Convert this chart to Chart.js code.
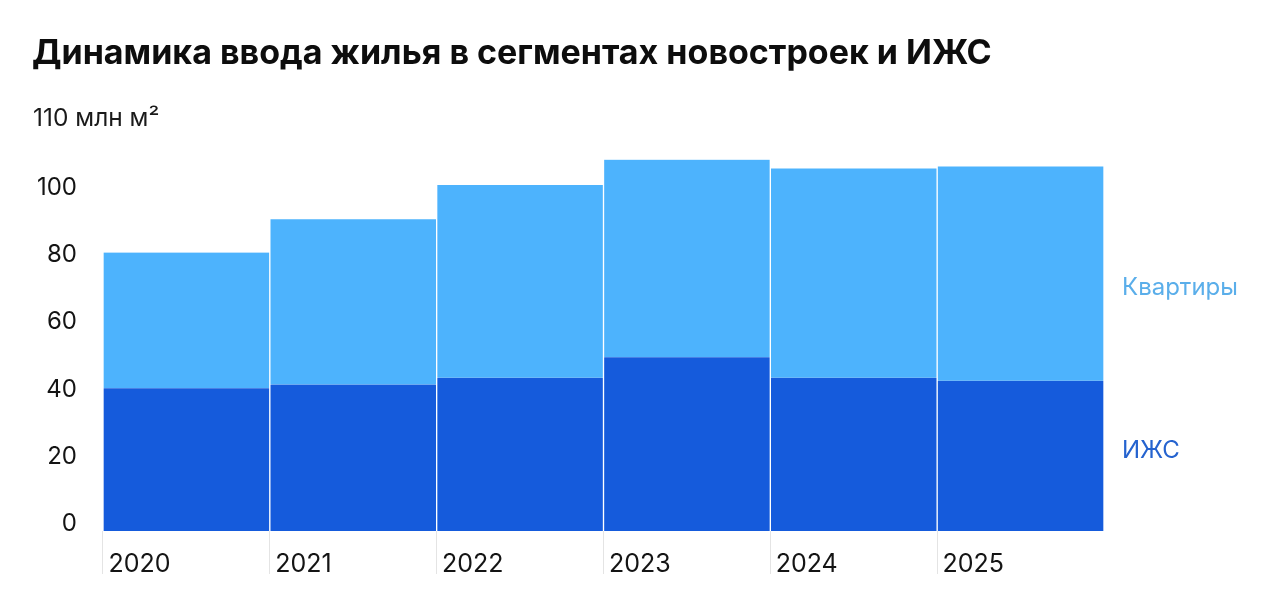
<!DOCTYPE html>
<html>
<head>
<meta charset="utf-8">
<script src="https://cdn.jsdelivr.net/npm/chart.js@4/dist/chart.umd.min.js"></script>
<style>
  html, body { margin: 0; padding: 0; background: #ffffff; }
  #wrap { width: 1280px; height: 611px; position: relative; }
</style>
</head>
<body>
<div id="wrap"><canvas id="c"></canvas></div>
<script>
const categories = ['2020', '2021', '2022', '2023', '2024', '2025'];
const izhsValues = [42.4, 43.5, 45.5, 51.6, 45.5, 44.6];
const flatsValues = [40.3, 49.1, 57.3, 58.7, 62.2, 63.7];
const yTickValues = [0, 20, 40, 60, 80, 100];
const titleText = 'Динамика ввода жилья в сегментах новостроек и ИЖС';
const unitText = '110 млн м²';
const seriesNames = ['ИЖС', 'Квартиры'];

const DARK = '#155bdc';
const LIGHT = '#4db3fd';
const FONT = 'Inter, "Noto Sans", sans-serif';

const textPlugin = {
  id: 'texts',
  afterDraw(chart) {
    const ctx = chart.ctx;
    const area = chart.chartArea;
    const y = chart.scales.y;
    ctx.save();
    ctx.textAlign = 'left';
    ctx.textBaseline = 'alphabetic';
    ctx.fillStyle = '#0d0d0d';
    ctx.font = 'bold 34px ' + FONT;
    ctx.fillText(titleText, 32, 64);
    ctx.fillStyle = '#1a1a1a';
    ctx.font = '24.5px ' + FONT;
    ctx.fillText(unitText, 33, 126);
    ctx.textBaseline = 'middle';
    ctx.font = '24px ' + FONT;
    ctx.fillStyle = '#5aaeea';
    ctx.fillText(seriesNames[1], area.right + 18, y.getPixelForValue(72.3));
    ctx.fillStyle = '#2563cf';
    ctx.fillText(seriesNames[0], area.right + 18, y.getPixelForValue(23.7));
    ctx.restore();
  }
};

new Chart(document.getElementById('c'), {
  type: 'bar',
  data: {
    labels: categories,
    datasets: [
      {
        label: seriesNames[0],
        data: izhsValues,
        backgroundColor: DARK,
        borderColor: '#ffffff',
        borderWidth: { top: 0, bottom: 0, left: 1, right: 1 },
        borderSkipped: false,
        barPercentage: 1,
        categoryPercentage: 1
      },
      {
        label: seriesNames[1],
        data: flatsValues,
        backgroundColor: LIGHT,
        borderColor: '#ffffff',
        borderWidth: { top: 0, bottom: 0, left: 1, right: 1 },
        borderSkipped: false,
        barPercentage: 1,
        categoryPercentage: 1
      }
    ]
  },
  options: {
    responsive: true,
    maintainAspectRatio: false,
    animation: false,
    devicePixelRatio: 1,
    layout: { padding: { left: 33, right: 176, top: 127, bottom: 33 } },
    plugins: {
      legend: { display: false },
      title: { display: false },
      tooltip: { enabled: false }
    },
    scales: {
      x: {
        stacked: true,
        border: { display: false },
        grid: {
          offset: true,
          drawOnChartArea: false,
          drawTicks: true,
          tickLength: 43,
          tickWidth: 1,
          tickColor: (ctx) => ctx.type === 'tick' ? '#e4e4e4' : 'rgba(0,0,0,0)'
        },
        afterFit: (scale) => { scale.height = 47; },
        ticks: {
          align: 'start',
          labelOffset: -78,
          padding: -25,
          color: '#141414',
          font: { family: FONT, size: 25 },
          maxRotation: 0,
          autoSkip: false
        }
      },
      y: {
        stacked: true,
        min: 0,
        max: 120,
        border: { display: false },
        grid: { display: false, drawTicks: false },
        afterBuildTicks: (scale) => { scale.ticks = yTickValues.map(v => ({ value: v })); },
        afterFit: (scale) => { scale.width = 70; },
        ticks: {
          padding: 26,
          labelOffset: -7,
          color: '#141414',
          font: { family: FONT, size: 24 }
        }
      }
    }
  },
  plugins: [textPlugin]
});
</script>
</body>
</html>
